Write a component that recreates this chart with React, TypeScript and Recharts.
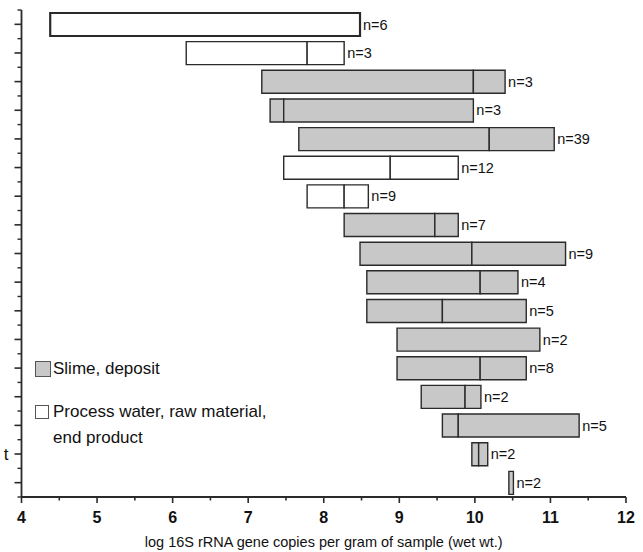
import React from 'react';
import { BarChart, Bar, XAxis, YAxis, Cell, LabelList } from 'recharts';

// One row per sample group, top to bottom
const rowIds = ['r1', 'r2', 'r3', 'r4', 'r5', 'r6', 'r7', 'r8', 'r9', 'r10', 'r11', 'r12', 'r13', 'r14', 'r15', 'r16', 'r17'];
const rowLabels = ['', '', '', '', '', '', '', '', '', '', '', '', '', '', '', 't', ''];
const lows = [4.38, 6.18, 7.18, 7.29, 7.67, 7.47, 7.78, 8.27, 8.48, 8.57, 8.57, 8.97, 8.97, 9.29, 9.57, 9.96, 10.45];
const medians: (number | null)[] = [null, 7.78, 9.98, 7.47, 10.19, 8.88, 8.27, 9.47, 9.96, 10.07, 9.57, null, 10.07, 9.87, 9.78, 10.05, null];
const highs = [8.48, 8.27, 10.4, 9.98, 11.05, 9.78, 8.59, 9.78, 11.2, 10.57, 10.68, 10.86, 10.68, 10.08, 11.38, 10.17, 10.51];
const counts = [6, 3, 3, 3, 39, 12, 9, 7, 9, 4, 5, 2, 8, 2, 5, 2, 2];
// 'w' = process water / raw material / end product, 's' = slime, deposit
const groups = ['w', 'w', 's', 's', 's', 'w', 'w', 's', 's', 's', 's', 's', 's', 's', 's', 's', 's'];

const xTicks = [4, 4.5, 5, 5.5, 6, 6.5, 7, 7.5, 8, 8.5, 9, 9.5, 10, 10.5, 11, 11.5, 12];

const CHART_W = 643;
const CHART_H = 552;
const TOP = 10;
const X_AXIS_H = 55;
const BAND = (CHART_H - TOP - X_AXIS_H) / rowIds.length;

const GRAY = '#c8c8c8';
const EDGE = '#2a2a2a';
const FONT = 'Arial, "Liberation Sans", Helvetica, sans-serif';

const data = rowIds.map((id, i) => {
  const mid = medians[i];
  const lo = (mid ?? highs[i]) - lows[i];
  const hi = mid == null ? 0 : highs[i] - mid;
  return {
    id,
    base: lows[i],
    lo,
    hi,
    labelLo: hi > 0 ? null : counts[i],
    labelHi: hi > 0 ? counts[i] : null,
    group: groups[i],
  };
});

const XTick = (props: any) => {
  const { x, y, payload } = props;
  const major = Number.isInteger(payload.value);
  return (
    <g>
      <line x1={x} x2={x} y1={y} y2={y + (major ? 6 : 3.5)} stroke={EDGE} strokeWidth={1.6} />
      {major && (
        <text x={x} y={y + 26} textAnchor="middle" fontFamily={FONT} fontWeight="bold" fontSize={16} fill="#111">
          {payload.value}
        </text>
      )}
    </g>
  );
};

// major tick at each row centre, minor ticks at the row boundaries
const YTick = (props: any) => {
  const { x, y, index } = props;
  const last = index === rowIds.length - 1;
  return (
    <g>
      <line x1={x - 7} x2={x} y1={y} y2={y} stroke={EDGE} strokeWidth={1.6} />
      <line x1={x - 4} x2={x} y1={y - BAND / 2} y2={y - BAND / 2} stroke={EDGE} strokeWidth={1.4} />
      {last && <line x1={x - 4} x2={x} y1={y + BAND / 2} y2={y + BAND / 2} stroke={EDGE} strokeWidth={1.4} />}
      <text x={x - 13} y={y} textAnchor="end" dominantBaseline="central" fontFamily={FONT} fontSize={17} fill="#111">
        {rowLabels[index]}
      </text>
    </g>
  );
};

const nLabel = (props: any) => {
  const { x, y, width, height, value } = props;
  if (value == null) return null;
  return (
    <text x={x + width + 3} y={y + height / 2} dominantBaseline="central" fontFamily={FONT} fontSize={14.5} fill="#111">
      n={value}
    </text>
  );
};

const legendBox = (fill: string, size: number): React.CSSProperties => ({
  position: 'absolute',
  width: size,
  height: size,
  background: fill,
  border: '1px solid #555',
  boxSizing: 'border-box',
});

const textStyle: React.CSSProperties = {
  position: 'absolute',
  fontFamily: FONT,
  fontSize: 17,
  color: '#111',
  whiteSpace: 'nowrap',
  lineHeight: '26px',
};

export default function App() {
  return (
    <div style={{ position: 'relative', width: CHART_W, height: CHART_H, background: '#fff' }}>
      <style>{`body{margin:0;}`}</style>
      <BarChart
        width={CHART_W}
        height={CHART_H}
        data={data}
        layout="vertical"
        barSize={23}
        margin={{ top: TOP, right: 17, left: 0, bottom: 0 }}
      >
        <XAxis
          type="number"
          domain={[4, 12]}
          ticks={xTicks}
          interval={0}
          allowDataOverflow
          tick={<XTick />}
          tickSize={0}
          tickMargin={0}
          tickLine={false}
          axisLine={{ stroke: EDGE, strokeWidth: 1.8 }}
          height={X_AXIS_H}
          label={{
            value: 'log 16S rRNA gene copies per gram of sample (wet wt.)',
            position: 'insideBottom',
            offset: 5,
            fontFamily: FONT,
            fontSize: 14.5,
            fill: '#111',
          }}
        />
        <YAxis
          type="category"
          dataKey="id"
          width={21.5}
          tickSize={0}
          tickMargin={0}
          tick={<YTick />}
          tickLine={false}
          axisLine={{ stroke: EDGE, strokeWidth: 1.8 }}
          interval={0}
        />
        <Bar dataKey="base" stackId="a" fill="transparent" isAnimationActive={false} />
        <Bar dataKey="lo" stackId="a" stroke={EDGE} strokeWidth={1.4} isAnimationActive={false}>
          {data.map((d, i) => (
            <Cell key={d.id} fill={d.group === 's' ? GRAY : '#fff'} strokeWidth={i === 0 ? 2.2 : 1.4} />
          ))}
          <LabelList dataKey="labelLo" content={nLabel} />
        </Bar>
        <Bar dataKey="hi" stackId="a" stroke={EDGE} strokeWidth={1.4} isAnimationActive={false}>
          {data.map((d) => (
            <Cell key={d.id} fill={d.group === 's' ? GRAY : '#fff'} />
          ))}
          <LabelList dataKey="labelHi" content={nLabel} />
        </Bar>
      </BarChart>

      <div style={{ ...legendBox(GRAY, 16), left: 35, top: 361 }} />
      <div style={{ ...textStyle, left: 53, top: 356 }}>Slime, deposit</div>
      <div style={{ ...legendBox('#fff', 14), left: 35, top: 405 }} />
      <div style={{ ...textStyle, left: 53, top: 399 }}>
        Process water, raw material,
        <br />
        end product
      </div>
    </div>
  );
}
